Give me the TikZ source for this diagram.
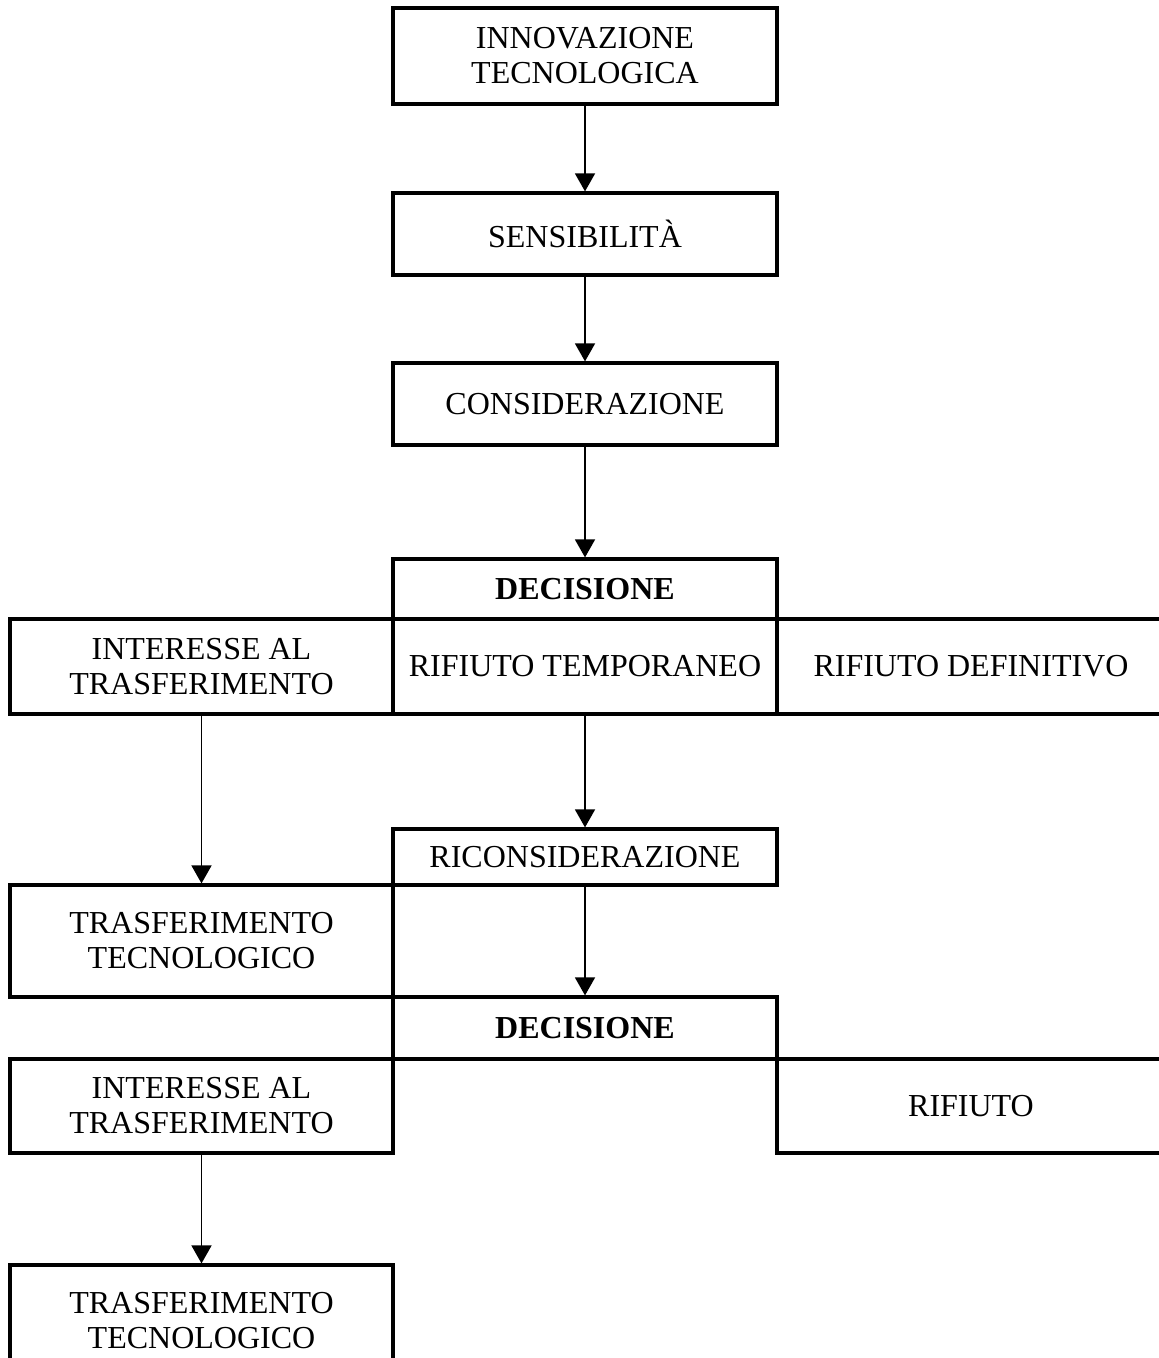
\documentclass[tikz,border=0pt]{standalone}
\usepackage{fontspec}
\setmainfont{Liberation Serif}
\usetikzlibrary{arrows.meta}
\tikzset{>={Triangle[width=10pt,length=9pt]},
  box/.style={draw, line width=1.6pt, align=center, inner sep=2pt,
    font=\fontsize{16pt}{17.5pt}\selectfont},
  colL/.style={box, minimum width=191.5pt},
  colM/.style={box, minimum width=192pt},
  colR/.style={box, minimum width=194pt},
  link/.style={->, line width=0.8pt}}

\begin{document}
\begin{tikzpicture}[x=0.5pt,y=-0.5pt]
  \path[use as bounding box, clip] (0,0) rectangle (1159,1358);
  % main column
  \node[colM, minimum height=48pt] (innov) at (585,56) {INNOVAZIONE\\TECNOLOGICA};
  \node[colM, minimum height=41pt] (sens) at (585,234) {SENSIBILITÀ};
  \node[colM, minimum height=41pt] (cons) at (585,404) {CONSIDERAZIONE};
  % first decision
  \node[colM, minimum height=30pt] (decA) at (585,589) {\textbf{DECISIONE}};
  \node[colL, minimum height=47.5pt] (intA) at (201.5,666.5) {INTERESSE AL\\TRASFERIMENTO};
  \node[colM, minimum height=47.5pt] (rtemp) at (585,666.5) {RIFIUTO TEMPORANEO};
  \node[colR, minimum height=47.5pt] (rdef) at (971,666.5) {RIFIUTO DEFINITIVO};
  \node[colM, minimum height=28pt] (ricons) at (585,857) {RICONSIDERAZIONE};
  \node[colL, minimum height=56pt] (trasfA) at (201.5,941) {TRASFERIMENTO\\TECNOLOGICO};
  % second decision
  \node[colM, minimum height=31pt] (decB) at (585,1028) {\textbf{DECISIONE}};
  \node[colL, minimum height=47pt] (intB) at (201.5,1106) {INTERESSE AL\\TRASFERIMENTO};
  \node[colR, minimum height=47pt] (rif) at (971,1106) {RIFIUTO};
  \node[colL, minimum height=56pt] (trasfB) at (201.5,1321) {TRASFERIMENTO\\TECNOLOGICO};
  % arrows
  \draw[link] (innov) -- (sens);
  \draw[link] (sens) -- (cons);
  \draw[link] (cons) -- (decA);
  \draw[link] (rtemp) -- (ricons);
  \draw[link] (intA) -- (trasfA);
  \draw[link] (ricons) -- (decB);
  \draw[link] (intB) -- (trasfB);
\end{tikzpicture}
\end{document}
